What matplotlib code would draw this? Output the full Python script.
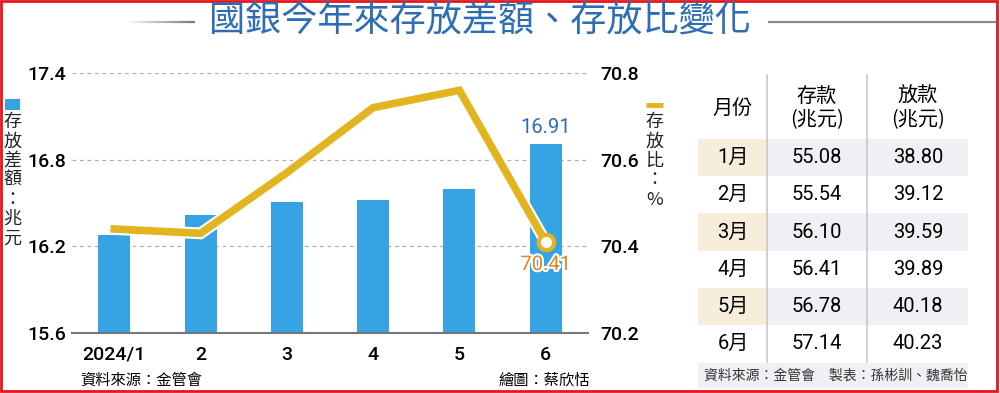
import numpy as np
import matplotlib
matplotlib.use("Agg")
import matplotlib.pyplot as plt
import matplotlib.patheffects as pe
from matplotlib.patches import Rectangle

plt.rcParams['font.family'] = ['Roboto', 'Noto Sans CJK TC', 'DejaVu Sans']
CJK = ['Noto Sans CJK TC', 'DejaVu Sans']

# data
months = ["2024/1", "2", "3", "4", "5", "6"]
gap = [16.28, 16.42, 16.51, 16.52, 16.60, 16.91]          # 存放差額 (兆元)
ratio = [70.44, 70.43, 70.57, 70.72, 70.76, 70.41]        # 存放比 (%)

tbl_months = ["1月", "2月", "3月", "4月", "5月", "6月"]
deposits = ["55.08", "55.54", "56.10", "56.41", "56.78", "57.14"]
loans = ["38.80", "39.12", "39.59", "39.89", "40.18", "40.23"]

BLUE_BAR = '#36a3e4'
TITLE_BLUE = '#2c6db5'
GOLD = '#e2b41f'
ORANGE = '#e0861b'

fig = plt.figure(figsize=(10, 3.93), dpi=100)

# background overlay in pixel coords
bg = fig.add_axes([0, 0, 1, 1], zorder=0)
bg.set_xlim(0, 1000)
bg.set_ylim(393, 0)
bg.axis('off')

# chart axes
ax = fig.add_axes([0.072, 1 - 333 / 393, 0.516, (333 - 73) / 393], zorder=2)
x = np.arange(len(months))
ax.bar(x, gap, width=0.37, color=BLUE_BAR, zorder=2)
ax.set_xlim(-0.49, 5.49)
ax.set_ylim(15.6, 17.4)
ax.set_yticks([15.6, 16.2, 16.8, 17.4])
ax.set_yticklabels(["15.6", "16.2", "16.8", "17.4"])
ax.set_xticks(x)
ax.set_xticklabels(months)
for s in ['top', 'left', 'right']:
    ax.spines[s].set_visible(False)
ax.spines['bottom'].set_color('#777777')
ax.spines['bottom'].set_linewidth(1.5)
ax.tick_params(axis='y', length=0, pad=4, labelsize=14)
ax.tick_params(axis='x', length=0, pad=9, labelsize=14)
for lab in ax.get_xticklabels() + ax.get_yticklabels():
    lab.set_fontweight('medium')
for g in [16.2, 16.8, 17.4]:
    ax.axhline(g, color='#b0b0b0', lw=0.9, ls=(0, (3, 3)), zorder=1)
ax.patch.set_alpha(0)

ax.text(x[-1], gap[-1] + 0.05, "16.91", ha='center', va='bottom',
        color=TITLE_BLUE, fontsize=14.5)

ax2 = ax.twinx()
ax2.set_ylim(70.2, 70.8)
ax2.set_yticks([70.2, 70.4, 70.6, 70.8])
ax2.set_yticklabels(["70.2", "70.4", "70.6", "70.8"])
ax2.tick_params(axis='y', length=0, pad=9, labelsize=14)
for lab in ax2.get_yticklabels():
    lab.set_fontweight('medium')
for s in ['top', 'left', 'right', 'bottom']:
    ax2.spines[s].set_visible(False)
ax2.plot(x, ratio, color=GOLD, lw=5.5, solid_joinstyle='miter', zorder=3,
         path_effects=[pe.Stroke(linewidth=8.5, foreground='white'), pe.Normal()])
ax2.plot(x[-1], ratio[-1], 'o', ms=11, mfc='white', mec=GOLD, mew=3, zorder=4)
ax2.text(x[-1], ratio[-1] - 0.03, "70.41", ha='center', va='top',
         color=ORANGE, fontsize=14.5,
         path_effects=[pe.withStroke(linewidth=3, foreground='white')])

# title with side rules
bg.text(480, 22, "國銀今年來存放差額、存放比變化", ha='center', va='center',
        fontsize=26, color=TITLE_BLUE, family=CJK, fontweight='medium')
n = 40
xs = np.linspace(125, 195, n + 1)
for i in range(n):
    c = 1 - 0.55 * (i / n)
    bg.plot(xs[i:i + 2], [22, 22], color=(c, c, c), lw=1.6, solid_capstyle='butt')
bg.plot([769, 995], [22, 22], color='#8a8a8a', lw=1.6)

# legends (stacked vertical text)
bg.add_patch(Rectangle((5, 99), 15, 11, color=BLUE_BAR, lw=0))
bg.text(12.5, 113, "\n".join("存放差額：兆元"), ha='center', va='top',
        fontsize=13, family=CJK, linespacing=1.1, color='#222222')
bg.plot([646, 663], [105, 105], color=GOLD, lw=3.5, solid_capstyle='butt')
bg.text(654.5, 113, "\n".join("存放比：%"), ha='center', va='top',
        fontsize=13, family=CJK, linespacing=1.1, color='#222222')

# footers
bg.text(80, 380, "資料來源：金管會", ha='left', va='center', fontsize=11, family=CJK)
bg.text(590, 380, "繪圖：蔡欣恬", ha='right', va='center', fontsize=11, family=CJK)

# table
tx0, tx1 = 698, 968
col_x = [733, 817, 918]
row_y0 = 139
row_h = 37.2
bg.text(col_x[0], 108, "月份", ha='center', va='center', fontsize=14.5, family=CJK)
bg.text(col_x[1], 108, "存款\n(兆元)", ha='center', va='center', fontsize=14.5,
        family=CJK, linespacing=1.1)
bg.text(col_x[2], 108, "放款\n(兆元)", ha='center', va='center', fontsize=14.5,
        family=CJK, linespacing=1.1)
for i in range(len(tbl_months)):
    y0 = row_y0 + i * row_h
    yc = y0 + row_h / 2
    if i % 2 == 0:
        bg.add_patch(Rectangle((tx0, y0), 767 - tx0, row_h, color='#f6eedb', lw=0))
        bg.add_patch(Rectangle((767, y0), tx1 - 767, row_h, color='#eef0f4', lw=0))
    bg.text(col_x[0], yc, tbl_months[i], ha='center', va='center', fontsize=14.5,
            family=['Roboto', 'Noto Sans CJK TC'])
    bg.text(col_x[1], yc, deposits[i], ha='center', va='center', fontsize=14.5)
    bg.text(col_x[2], yc, loans[i], ha='center', va='center', fontsize=14.5)
for vx in [767, 867]:
    bg.plot([vx, vx], [75, 362], color='#c8c8c8', lw=1.2, zorder=3)
bg.add_patch(Rectangle((tx0, 363), tx1 - tx0, 25, color='#eef0f4', lw=0))
bg.text(704, 376, "資料來源：金管會　製表：孫彬訓、魏喬怡", ha='left', va='center',
        fontsize=10, family=CJK, color='#333333')

# red frame
bg.add_patch(Rectangle((1, 1), 996, 390, fill=False, edgecolor='#e8141b', lw=2))

fig.savefig("out.png", dpi=100)
